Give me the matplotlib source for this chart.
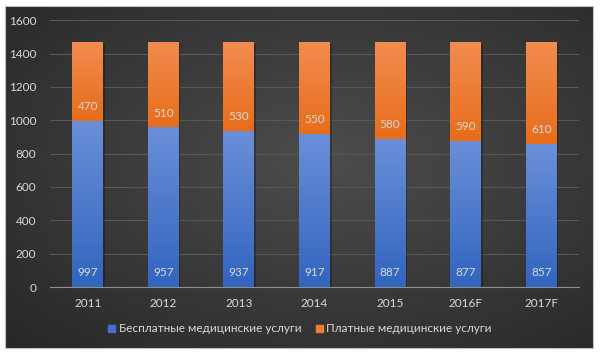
import numpy as np
import matplotlib.pyplot as plt
from matplotlib.patches import Patch
from matplotlib.colors import LinearSegmentedColormap

plt.rcParams['font.family'] = ['Lato', 'DejaVu Sans']

years = ['2011', '2012', '2013', '2014', '2015', '2016F', '2017F']
free = [997, 957, 937, 917, 887, 877, 857]
paid = [470, 510, 530, 550, 580, 590, 610]
free_label = 'Бесплатные медицинские услуги'
paid_label = 'Платные медицинские услуги'

blue = '#4472C4'
orange = '#ED7D31'
txt = '#d9d9d9'
blue_cm = LinearSegmentedColormap.from_list('b', ['#3265BF', '#6A8FD8'])
orange_cm = LinearSegmentedColormap.from_list('o', ['#E86D1A', '#F18C50'])

W, H = 600, 357
fig = plt.figure(figsize=(W / 100, H / 100), dpi=100, facecolor='white')

# dark background panel with a soft radial gradient
bg = fig.add_axes([5 / W, 1 - 348 / H, 588 / W, 342 / H])
yy, xx = np.mgrid[0:1:200j, 0:1:300j]
r = np.sqrt(((xx - 0.55) / 0.9) ** 2 + ((yy - 0.45) / 0.9) ** 2)
shade = np.clip(0.30 - 0.17 * r, 0.14, 0.30)
bg.imshow(np.dstack([shade] * 3), aspect='auto', extent=[0, 1, 0, 1])
bg.set_xticks([])
bg.set_yticks([])
for s in bg.spines.values():
    s.set_color('#bfbfbf')
    s.set_linewidth(0.8)

ax = fig.add_axes([50 / W, 1 - 287 / H, 529 / W, 266.7 / H])
ax.patch.set_alpha(0)
x = np.arange(len(years))
bw = 0.41
grad = np.linspace(0, 1, 100).reshape(-1, 1)


def grad_bars(bars, cmap):
    for b in bars:
        x0, y0 = b.get_x(), b.get_y()
        w, h = b.get_width(), b.get_height()
        im = ax.imshow(grad, cmap=cmap, aspect='auto', origin='lower',
                       extent=[x0, x0 + w, y0, y0 + h], zorder=3)
        im.set_clip_path(b)
        b.set_facecolor('none')


# faint shadow behind the bars
ax.bar(x + 0.02, np.add(free, paid), width=bw, bottom=-12, color='black',
       alpha=0.25, zorder=2)
b1 = ax.bar(x, free, width=bw, color=blue, zorder=3)
b2 = ax.bar(x, paid, width=bw, bottom=free, color=orange, zorder=3)
grad_bars(b1, blue_cm)
grad_bars(b2, orange_cm)

for i in range(len(years)):
    ax.text(x[i], 85, str(free[i]), color=txt, ha='center', va='center',
            fontsize=8.5, zorder=4)
    ax.text(x[i], free[i] + 85, str(paid[i]), color=txt, ha='center',
            va='center', fontsize=8.5, zorder=4)

ax.set_xlim(-0.5, len(years) - 0.5)
ax.set_ylim(0, 1600)
ax.set_yticks(range(0, 1601, 200))
ax.set_xticks(x)
ax.set_xticklabels(years)
ax.tick_params(colors=txt, labelsize=8.5, length=0)
ax.tick_params(axis='y', pad=10)
ax.tick_params(axis='x', pad=8)
ax.grid(axis='y', color='#575757', linewidth=0.8, zorder=0)
for side in ['top', 'right', 'left']:
    ax.spines[side].set_visible(False)
ax.spines['bottom'].set_color('#8f8f8f')
ax.spines['bottom'].set_zorder(5)

handles = [Patch(color=blue, label=free_label), Patch(color=orange, label=paid_label)]
fig.legend(handles=handles, loc='center', bbox_to_anchor=(0.5, 1 - 329 / H), ncol=2,
           frameon=False, fontsize=8.5, labelcolor=txt, handlelength=0.6,
           handleheight=0.6, handletextpad=0.3, columnspacing=1.2)

fig.savefig('out.png', dpi=100, facecolor='white')
